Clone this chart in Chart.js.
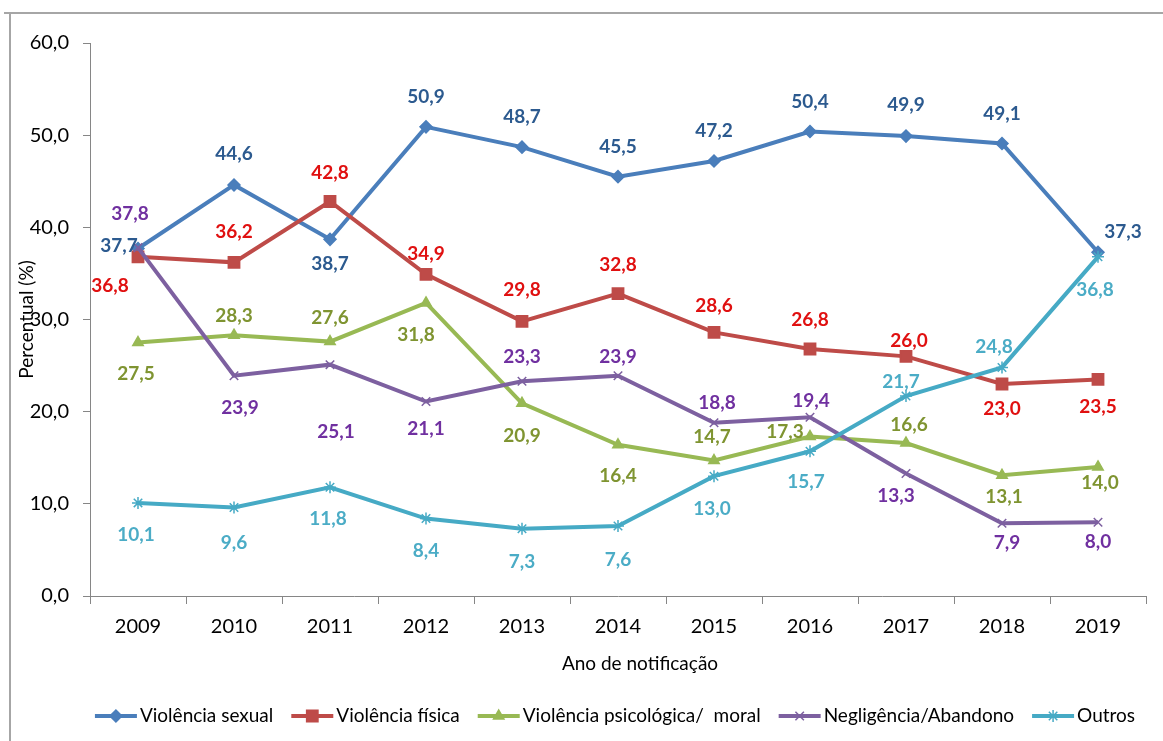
<!DOCTYPE html>
<html>
<head>
<meta charset="utf-8">
<script src="https://cdn.jsdelivr.net/npm/chart.js@4/dist/chart.umd.min.js"></script>
<style>
  html, body { margin: 0; padding: 0; background: #fff; }
  #wrap { width: 1163px; height: 741px; }
</style>
</head>
<body>
<div id="wrap"><canvas id="chart" width="1163" height="741"></canvas></div>
<script>
// ================================
// Data
// ================================
const years = ['2009', '2010', '2011', '2012', '2013', '2014', '2015', '2016', '2017', '2018', '2019'];

const sexual      = [37.7, 44.6, 38.7, 50.9, 48.7, 45.5, 47.2, 50.4, 49.9, 49.1, 37.3];
const fisica      = [36.8, 36.2, 42.8, 34.9, 29.8, 32.8, 28.6, 26.8, 26.0, 23.0, 23.5];
const psicologica = [27.5, 28.3, 27.6, 31.8, 20.9, 16.4, 14.7, 17.3, 16.6, 13.1, 14.0];
const negligencia = [37.8, 23.9, 25.1, 21.1, 23.3, 23.9, 18.8, 19.4, 13.3, 7.9, 8.0];
const outros      = [10.1, 9.6, 11.8, 8.4, 7.3, 7.6, 13.0, 15.7, 21.7, 24.8, 36.8];

const yTicks = [0, 10, 20, 30, 40, 50, 60];

// ================================
// Label placement (pixel offsets from each point, like Excel put them)
// ================================
const labelOffsets = [
    [[-19, -3], [0, -31], [0, 25], [0, -30], [0, -30], [0, -30], [0, -30], [0, -30], [0, -31], [0, -30], [25, -20]],
    [[-28, 29], [0, -30], [0, -29], [0, -20], [0, -31], [0, -29], [0, -27], [0, -29], [3, -15], [0, 25], [0, 27]],
    [[-2, 31], [0, -19], [0, -24], [-10, 32], [0, 33], [0, 31], [-2, -24], [-25, -5], [3, -18], [2, 22], [2, 16]],
    [[-8, -34], [6, 32], [6, 67], [0, 27], [0, -24], [0, -19], [3, -20], [1, -16], [-10, 22], [5, 20], [0, 20]],
    [[-2, 32], [0, 35], [-2, 32], [0, 32], [0, 33], [0, 34], [-2, 33], [-4, 31], [-5, -14], [-8, -21], [-3, 33]]
];

const FONT = 'Lato, "Open Sans", "DejaVu Sans", sans-serif';
const fmt = v => v.toFixed(1).replace('.', ',');

// ================================
// Plugins
// ================================
const framePlugin = {
    id: 'frame',
    beforeDraw(chart) {
        const ctx = chart.ctx;
        ctx.save();
        ctx.fillStyle = '#ffffff';
        ctx.fillRect(0, 0, chart.width, chart.height);
        ctx.strokeStyle = '#a6a6a6';
        ctx.lineWidth = 2;
        ctx.beginPath();
        ctx.moveTo(4, 13);
        ctx.lineTo(chart.width, 13);
        ctx.moveTo(10, 13);
        ctx.lineTo(10, chart.height);
        ctx.stroke();
        ctx.restore();
    }
};

const valueLabelPlugin = {
    id: 'valueLabels',
    afterDatasetsDraw(chart) {
        const ctx = chart.ctx;
        ctx.save();
        ctx.font = 'bold 19px ' + FONT;
        ctx.textAlign = 'center';
        ctx.textBaseline = 'middle';
        chart.data.datasets.forEach((ds, di) => {
            const meta = chart.getDatasetMeta(di);
            ctx.fillStyle = ds.labelColor;
            meta.data.forEach((pt, i) => {
                const off = labelOffsets[di][i];
                ctx.fillText(fmt(ds.data[i]), pt.x + off[0], pt.y + off[1]);
            });
        });
        ctx.restore();
    }
};

// x axis title sits a bit right of centre in the original
const xTitlePlugin = {
    id: 'xTitle',
    afterDraw(chart) {
        const ctx = chart.ctx;
        ctx.save();
        ctx.font = '19px ' + FONT;
        ctx.fillStyle = '#000';
        ctx.textAlign = 'center';
        ctx.textBaseline = 'middle';
        ctx.fillText('Ano de notificação', 640, 664);
        ctx.restore();
    }
};

const legendPlugin = {
    id: 'excelLegend',
    afterDraw(chart) {
        const ctx = chart.ctx;
        const y = 716;
        const lineLen = 42, gapText = 3, gapItem = 18;
        ctx.save();
        ctx.font = '19px ' + FONT;
        ctx.textBaseline = 'middle';
        const items = chart.data.datasets.map(ds => ({ ds, w: ctx.measureText(ds.label).width }));
        const total = items.reduce((s, it) => s + lineLen + gapText + it.w, 0) + gapItem * (items.length - 1);
        let x = 615 - total / 2;
        items.forEach(it => {
            const ds = it.ds;
            ctx.strokeStyle = ds.borderColor;
            ctx.lineWidth = 4;
            ctx.beginPath();
            ctx.moveTo(x, y);
            ctx.lineTo(x + lineLen, y);
            ctx.stroke();
            if (Chart.helpers && Chart.helpers.drawPoint) {
                ctx.fillStyle = ds.borderColor;
                ctx.lineWidth = 1.5;
                Chart.helpers.drawPoint(ctx, {
                    pointStyle: ds.pointStyle,
                    radius: ds.pointRadius,
                    rotation: 0,
                    borderWidth: 1.5
                }, x + lineLen / 2, y);
            }
            ctx.fillStyle = '#000000';
            ctx.textAlign = 'left';
            ctx.fillText(ds.label, x + lineLen + gapText, y);
            x += lineLen + gapText + it.w + gapItem;
        });
        ctx.restore();
    }
};

// ================================
// Chart
// ================================
function series(label, data, color, labelColor, pointStyle, radius, order) {
    return {
        label, data, order,
        borderColor: color,
        backgroundColor: color,
        pointBackgroundColor: color,
        pointBorderColor: color,
        pointBorderWidth: 1.5,
        pointStyle,
        pointRadius: radius,
        borderWidth: 4,
        tension: 0,
        fill: false,
        labelColor
    };
}

new Chart(document.getElementById('chart'), {
    type: 'line',
    data: {
        labels: years,
        datasets: [
            series('Violência sexual', sexual, '#4a7ebb', '#2c5a8f', 'rectRot', 6, 5),
            series('Violência física', fisica, '#be4b48', '#e01010', 'rect', 8, 4),
            series('Violência psicológica/  moral', psicologica, '#98b954', '#7f9431', 'triangle', 6, 3),
            series('Negligência/Abandono', negligencia, '#7d60a0', '#7030a0', 'crossRot', 6, 2),
            series('Outros', outros, '#46aac5', '#4bacc6', 'star', 6, 1)
        ]
    },
    options: {
        responsive: false,
        animation: false,
        layout: { padding: { top: 43, right: 17, bottom: 65, left: 0 } },
        plugins: {
            legend: { display: false },
            tooltip: { enabled: false }
        },
        scales: {
            x: {
                offset: true,
                grid: { offset: true, drawOnChartArea: false, tickLength: 8, color: '#868686' },
                border: { color: '#868686', width: 1 },
                ticks: { font: { family: FONT, size: 20 }, color: '#000', padding: 11, maxRotation: 0 },
                title: { display: false },
                afterFit(scale) { scale.height = 80; }
            },
            y: {
                min: 0,
                max: 60,
                afterBuildTicks(scale) { scale.ticks = yTicks.map(v => ({ value: v })); },
                grid: { drawOnChartArea: false, tickLength: 7, color: '#868686' },
                border: { color: '#868686', width: 1 },
                ticks: { font: { family: FONT, size: 20 }, color: '#000', padding: 14, callback: v => fmt(v) },
                title: {
                    display: true, text: 'Percentual (%)', color: '#000',
                    font: { family: FONT, size: 19 }, padding: { top: 15, bottom: 0 }
                },
                afterFit(scale) { scale.width = 90; }
            }
        }
    },
    plugins: [framePlugin, valueLabelPlugin, xTitlePlugin, legendPlugin]
});
</script>
</body>
</html>
